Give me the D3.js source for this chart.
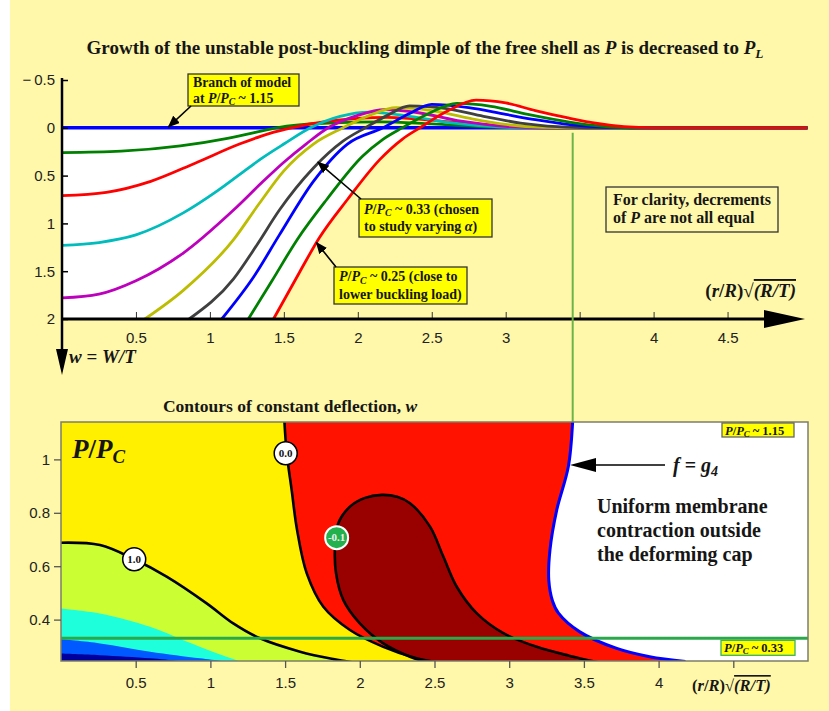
<!DOCTYPE html>
<html>
<head>
<meta charset="utf-8">
<script src="https://cdn.jsdelivr.net/npm/d3@7"></script>
<style>
  html, body { margin: 0; padding: 0; background: #ffffff; }
  svg { display: block; }
  text { font-family: "Liberation Serif", "Times New Roman", serif; }
  .axis text { font-family: "Liberation Sans", Arial, Helvetica, sans-serif; font-size: 15px; fill: #222; }
</style>
</head>
<body>
<svg id="chart" width="829" height="711"></svg>
<script>
// ---------------- upper panel: deflection profiles w(x) ----------------
const topXTicks = [0.5, 1, 1.5, 2, 2.5, 3, 3.5, 4, 4.5];
const topXTickLabels = ["0.5", "1", "1.5", "2", "2.5", "3", "", "4", "4.5"];
const topYTicks = [-0.5, 0, 0.5, 1, 1.5, 2];
const topYTickLabels = ["\u2212\u20090.5", "0", "0.5", "1", "1.5", "2"];

// [x, w] samples, P decreasing from P/Pc ~ 1.15 down to ~ 0.25
const profileP115 = [[0, 0], [5.04, 0]];
const profile2 = [[0, 0.26], [0.4, 0.245], [0.8, 0.19], [1.1, 0.115], [1.3, 0.05], [1.45, 0], [1.8, -0.05], [2.15, -0.062], [2.5, -0.04], [2.9, -0.008], [3.2, 0], [5.04, 0]];
const profile3 = [[0, 0.71], [0.3, 0.675], [0.6, 0.56], [0.9, 0.37], [1.2, 0.17], [1.4, 0.06], [1.55, 0], [1.8, -0.07], [2.2, -0.11], [2.6, -0.065], [3.0, -0.015], [3.3, 0], [5.04, 0]];
const profile4 = [[0, 1.23], [0.25, 1.2], [0.5, 1.12], [0.82, 0.89], [1.05, 0.66], [1.2, 0.49], [1.35, 0.32], [1.5, 0.17], [1.68, 0], [1.88, -0.12], [2.08, -0.165], [2.35, -0.12], [2.65, -0.05], [2.95, -0.01], [3.2, 0], [5.04, 0]];
const profile5 = [[0, 1.78], [0.25, 1.74], [0.5, 1.6], [0.82, 1.31], [1.16, 0.86], [1.36, 0.56], [1.5, 0.36], [1.65, 0.17], [1.8, 0], [2.0, -0.13], [2.18, -0.19], [2.4, -0.16], [2.7, -0.07], [3.0, -0.015], [3.3, 0], [5.04, 0]];
const profile6 = [[0.56, 2], [0.82, 1.7], [1.16, 1.17], [1.33, 0.8], [1.5, 0.45], [1.7, 0.17], [1.9, 0], [2.08, -0.13], [2.26, -0.21], [2.5, -0.18], [2.75, -0.1], [3.0, -0.035], [3.25, -0.005], [3.45, 0], [5.04, 0]];
const profile7 = [[0.86, 2], [1.16, 1.58], [1.32, 1.22], [1.47, 0.86], [1.7, 0.42], [1.9, 0.14], [2.05, 0], [2.2, -0.13], [2.35, -0.23], [2.6, -0.2], [2.85, -0.12], [3.1, -0.05], [3.35, -0.012], [3.55, 0], [5.04, 0]];
const profile8 = [[1.08, 2], [1.3, 1.55], [1.47, 1.12], [1.7, 0.56], [1.93, 0.17], [2.17, 0], [2.35, -0.15], [2.5, -0.245], [2.75, -0.21], [3.0, -0.14], [3.2, -0.085], [3.45, -0.03], [3.7, -0.005], [3.85, 0], [5.04, 0]];
const profile9 = [[1.26, 2], [1.42, 1.6], [1.59, 1.17], [1.79, 0.75], [2.03, 0.3], [2.17, 0.12], [2.3, 0], [2.48, -0.15], [2.67, -0.255], [2.9, -0.225], [3.15, -0.14], [3.43, -0.06], [3.66, -0.015], [3.85, 0], [5.04, 0]];
const profile10 = [[1.43, 2], [1.61, 1.5], [1.74, 1.15], [1.93, 0.75], [2.15, 0.33], [2.3, 0.12], [2.42, 0], [2.6, -0.17], [2.8, -0.29], [3.0, -0.26], [3.2, -0.18], [3.43, -0.1], [3.62, -0.045], [3.8, -0.012], [4.0, 0], [5.04, 0]];

const profiles = [profileP115, profile2, profile3, profile4, profile5, profile6, profile7, profile8, profile9, profile10];
const profileColors = ["#0000ff", "#008000", "#ff0000", "#00bcbc", "#bc00bc", "#bcbc00", "#404040", "#0000ff", "#008000", "#ff0000"];

// ---------------- lower panel: contours of w over (x, P/Pc) ----------------
const botXTicks = [0.5, 1, 1.5, 2, 2.5, 3, 3.5, 4, 4.5];
const botXTickLabels = ["0.5", "1", "1.5", "2", "2.5", "3", "3.5", "4", ""];
const botYTicks = [0.4, 0.6, 0.8, 1];
const botYTickLabels = ["0.4", "0.6", "0.8", "1"];

// contour lines as [x, P/Pc]
const contourZero = [[1.495, 1.145], [1.511, 1.023], [1.544, 0.885], [1.58, 0.736], [1.645, 0.573], [1.756, 0.448], [1.934, 0.361], [2.157, 0.298], [2.38, 0.255], [2.52, 0.24]];
const contourOne = [[0, 0.688], [0.261, 0.679], [0.49, 0.626], [0.707, 0.561], [0.975, 0.461], [1.153, 0.386], [1.332, 0.33], [1.6, 0.28], [1.823, 0.252], [1.95, 0.24]];
const contourMinus01 = [[2.45, 0.24], [2.336, 0.261], [2.157, 0.311], [2.0, 0.386], [1.89, 0.473], [1.841, 0.573], [1.834, 0.673], [1.856, 0.761], [1.934, 0.823], [2.03, 0.855], [2.147, 0.867], [2.25, 0.86], [2.336, 0.836], [2.47, 0.748], [2.559, 0.636], [2.649, 0.523], [2.782, 0.424], [2.961, 0.349], [3.184, 0.298], [3.4, 0.265], [3.6, 0.24]];
const levelEdge15 = [[0, 0.442], [0.261, 0.423], [0.596, 0.373], [0.819, 0.323], [1.042, 0.274], [1.2, 0.243]];
const levelEdge2 = [[0, 0.326], [0.261, 0.311], [0.596, 0.28], [0.93, 0.255], [1.11, 0.243]];
const levelEdge25 = [[0, 0.273], [0.261, 0.267], [0.6, 0.255], [0.82, 0.243]];
// f = g4 : edge of the deforming cap
const membraneEdge = [[3.425, 1.145], [3.396, 0.973], [3.318, 0.81], [3.273, 0.661], [3.265, 0.548], [3.29, 0.47], [3.33, 0.424], [3.47, 0.355], [3.72, 0.292], [3.94, 0.261], [4.18, 0.243]];

// contour labels [x, P/Pc, text]
const contourLabels = [[1.504, 1.023, "0.0"], [0.49, 0.626, "1.0"], [1.845, 0.707, "-0.1"]];
const studyLoad = 0.33;
const upperLoad = 1.15;

// ---------------------------------------------------------------------------
const svg = d3.select("#chart");
const W = 829, H = 711;
const ink = "#161616";

svg.append("rect").attr("x", 10).attr("y", 0).attr("width", W - 10).attr("height", H).attr("fill", "#fff8aa");

const defs = svg.append("defs");
defs.append("marker").attr("id", "head").attr("viewBox", "0 0 12 10")
  .attr("refX", 11).attr("refY", 5).attr("markerWidth", 12).attr("markerHeight", 10)
  .attr("markerUnits", "userSpaceOnUse").attr("orient", "auto")
  .append("path").attr("d", "M0,0 L12,5 L0,10 Z").attr("fill", "#000");

// rich text helper: lines = [[[text, italic?, subscript?, overline?], ...], ...]
function rich(parent, x, y, lines, size, anchor, gap) {
  const t = parent.append("text").attr("x", x).attr("y", y)
    .attr("font-size", size).attr("font-weight", "bold")
    .attr("text-anchor", anchor || "start").attr("fill", ink);
  let shift = 0;
  lines.forEach((parts, li) => {
    parts.forEach((p, pi) => {
      const s = t.append("tspan").text(p[0]);
      let dy = 0;
      if (li > 0 && pi === 0) { s.attr("x", x); dy += gap; }
      if (p[1]) s.attr("font-style", "italic");
      const want = p[2] ? size * 0.2 : 0;
      dy += want - shift; shift = want;
      if (dy) s.attr("dy", dy);
      if (p[2]) s.attr("font-size", size * 0.7);
      if (p[3]) s.style("text-decoration", "overline");
    });
  });
  return t;
}

// ================= upper panel =================
const xTop = d3.scaleLinear().domain([0, 5]).range([62, 801.5]);
const yTop = d3.scaleLinear().domain([-0.5, 2]).range([80, 319]);
const gTop = svg.append("g");

rich(gTop, 425, 54, [[["Growth of the unstable post-buckling dimple of the free shell as "], ["P", 1], [" is decreased to "], ["P", 1], ["L", 1, 1]]], 19, "middle");

// region swept by the dimple (between w = 0 and the last profile)
const lastProfile = profiles[profiles.length - 1];
gTop.append("rect")
  .attr("x", xTop(0)).attr("y", yTop(0))
  .attr("width", xTop(lastProfile[0][0]) - xTop(0) + 1).attr("height", yTop(2) - yTop(0))
  .attr("fill", "#ffffff");
gTop.append("path").datum(lastProfile)
  .attr("d", d3.area().x(d => xTop(d[0])).y0(yTop(0)).y1(d => yTop(d[1])).curve(d3.curveMonotoneX))
  .attr("fill", "#ffffff");

// vertical marker at the cap edge, continuing into the lower panel
const xBot = d3.scaleLinear().domain([0, 5]).range([61, 808]);
const yBot = d3.scaleLinear().domain([0.245, 1.14]).range([661, 422]);
const capX = xBot(membraneEdge[0][0]);
svg.append("line").attr("x1", capX).attr("x2", capX).attr("y1", yTop(0) + 5).attr("y2", yBot(1.14))
  .attr("stroke", "#6cb44a").attr("stroke-width", 2);

const profLine = d3.line().x(d => xTop(d[0])).y(d => yTop(d[1])).curve(d3.curveMonotoneX);
gTop.selectAll("path.profile").data(profiles).join("path")
  .attr("class", "profile")
  .attr("d", profLine)
  .attr("fill", "none")
  .attr("stroke", (d, i) => profileColors[i])
  .attr("stroke-width", (d, i) => i === 0 ? 3.6 : 2.8)
  .attr("stroke-linejoin", "round");

// axes
const axTopX = gTop.append("g").attr("class", "axis").attr("transform", `translate(0,${yTop(2)})`)
  .call(d3.axisBottom(xTop).tickValues(topXTicks).tickFormat((d, i) => topXTickLabels[i])
    .tickSizeInner(-7).tickSizeOuter(0).tickPadding(13));
axTopX.select(".domain").remove();
axTopX.selectAll(".tick line").attr("stroke", "#333");

const axTopY = gTop.append("g").attr("class", "axis").attr("transform", `translate(${xTop(0)},0)`)
  .call(d3.axisLeft(yTop).tickValues(topYTicks).tickFormat((d, i) => topYTickLabels[i])
    .tickSizeInner(-6).tickSizeOuter(0).tickPadding(7));
axTopY.select(".domain").remove();
axTopY.selectAll(".tick line").attr("stroke", "#000").attr("stroke-width", 1.5);

// horizontal axis with arrow
gTop.append("line").attr("x1", xTop(0)).attr("x2", 766).attr("y1", yTop(2)).attr("y2", yTop(2))
  .attr("stroke", "#000").attr("stroke-width", 3);
gTop.append("path").attr("d", `M764,${yTop(2) - 9} L805,${yTop(2)} L764,${yTop(2) + 9} Z`).attr("fill", "#000");
// vertical axis pointing down (w positive downward)
gTop.append("line").attr("x1", xTop(0)).attr("x2", xTop(0)).attr("y1", yTop(-0.5) - 2).attr("y2", 352)
  .attr("stroke", "#000").attr("stroke-width", 2.5);
gTop.append("path").attr("d", `M${xTop(0) - 6},349 L${xTop(0)},375 L${xTop(0) + 6},349 Z`).attr("fill", "#000");

rich(gTop, 69, 363, [[["w", 1], [" = "], ["W/T", 1]]], 19);
rich(gTop, 796, 297, [[["("], ["r", 1], ["/"], ["R", 1], [")"], ["\u221A"], ["(R/T)", 1, 0, 1]]], 19, "end");

// annotation boxes
function box(parent, x, y, w, h, fill, stroke) {
  parent.append("rect").attr("x", x).attr("y", y).attr("width", w).attr("height", h)
    .attr("fill", fill).attr("stroke", stroke).attr("stroke-width", 1.3);
}
function arrow(parent, x1, y1, x2, y2) {
  parent.append("line").attr("x1", x1).attr("y1", y1).attr("x2", x2).attr("y2", y2)
    .attr("stroke", "#000").attr("stroke-width", 1.6).attr("marker-end", "url(#head)");
}

box(gTop, 188, 74, 111, 32, "#ffff00", "#333");
rich(gTop, 193, 87, [[["Branch of model"]], [["at "], ["P", 1], ["/"], ["P", 1], ["C", 1, 1], [" ~ 1.15"]]], 13.8, "start", 15.5);
arrow(gTop, 191, 106, xTop(0.72), yTop(0) - 1);

box(gTop, 359, 199, 133, 38, "#ffff00", "#333");
rich(gTop, 364, 213.5, [[["P", 1], ["/"], ["P", 1], ["C", 1, 1], [" ~ 0.33 (chosen"]], [["to study varying "], ["\u03B1", 1], [")"]]], 14, "start", 17.5);
arrow(gTop, 361, 199, xTop(1.73), yTop(0.36));

box(gTop, 334, 267, 133, 37, "#ffff00", "#333");
rich(gTop, 339, 281, [[["P", 1], ["/"], ["P", 1], ["C", 1, 1], [" ~ 0.25 (close to"]], [["lower buckling load)"]]], 14, "start", 17.5);
arrow(gTop, 336, 267, xTop(1.72), yTop(1.2));

box(gTop, 606, 187, 172, 45, "none", "#333");
rich(gTop, 613, 204.5, [[["For clarity, decrements"]], [["of "], ["P", 1], [" are not all equal"]]], 16, "start", 18.5);

// ================= lower panel =================
const gBot = svg.append("g");
rich(gBot, 290, 412, [[["Contours of constant deflection, "], ["w", 1]]], 17.5, "middle");

defs.append("clipPath").attr("id", "frame").append("rect")
  .attr("x", xBot(0)).attr("y", yBot(1.14)).attr("width", xBot(5) - xBot(0)).attr("height", yBot(0.245) - yBot(1.14));

const plot = gBot.append("g").attr("clip-path", "url(#frame)");
const edge = d3.line().x(d => xBot(d[0])).y(d => yBot(d[1])).curve(d3.curveCatmullRom.alpha(0.5));
const X0 = xBot(0) - 2, Ybot = yBot(0.245) + 4, Ytop = yBot(1.14) - 4;
const leftOf = pts => edge(pts) + `L${X0},${Ybot}L${X0},${Ytop}Z`;
const below = pts => edge(pts) + `L${X0},${Ybot}Z`;

plot.append("rect").attr("x", xBot(0)).attr("y", yBot(1.14)).attr("width", xBot(5) - xBot(0)).attr("height", yBot(0.245) - yBot(1.14)).attr("fill", "#ffffff");
plot.append("path").attr("d", leftOf(membraneEdge)).attr("fill", "#ff1200");
plot.append("path").attr("d", edge(contourMinus01) + "Z").attr("fill", "#990000");
plot.append("path").attr("d", leftOf(contourZero)).attr("fill", "#fff000");
plot.append("path").attr("d", below(contourOne)).attr("fill", "#ccff33");
plot.append("path").attr("d", below(levelEdge15)).attr("fill", "#1effdc");
plot.append("path").attr("d", below(levelEdge2)).attr("fill", "#0058ff");
plot.append("path").attr("d", below(levelEdge25)).attr("fill", "#00009c");

[contourZero, contourOne, contourMinus01].forEach(c => {
  plot.append("path").attr("d", edge(c)).attr("fill", "none").attr("stroke", "#000").attr("stroke-width", 2.6);
});
plot.append("path").attr("d", edge(membraneEdge)).attr("fill", "none").attr("stroke", "#0000ff").attr("stroke-width", 3);

// study load line
plot.append("line").attr("x1", xBot(0)).attr("x2", xBot(5)).attr("y1", yBot(studyLoad)).attr("y2", yBot(studyLoad))
  .attr("stroke", "#2aa84a").attr("stroke-width", 3);

// frame and axes
gBot.append("rect").attr("x", xBot(0)).attr("y", yBot(1.14)).attr("width", xBot(5) - xBot(0)).attr("height", yBot(0.245) - yBot(1.14))
  .attr("fill", "none").attr("stroke", "#7d7d6a").attr("stroke-width", 1.5);
const axBotX = gBot.append("g").attr("class", "axis").attr("transform", `translate(0,${yBot(0.245)})`)
  .call(d3.axisBottom(xBot).tickValues(botXTicks).tickFormat((d, i) => botXTickLabels[i])
    .tickSizeInner(7).tickSizeOuter(0).tickPadding(9));
axBotX.select(".domain").remove();
axBotX.selectAll(".tick line").attr("stroke", "#555").attr("stroke-width", 1.3);
const axBotY = gBot.append("g").attr("class", "axis").attr("transform", `translate(${xBot(0)},0)`)
  .call(d3.axisLeft(yBot).tickValues(botYTicks).tickFormat((d, i) => botYTickLabels[i])
    .tickSizeInner(7).tickSizeOuter(0).tickPadding(4));
axBotY.select(".domain").remove();
axBotY.selectAll(".tick line").attr("stroke", "#555").attr("stroke-width", 1.3);

rich(gBot, 72, 458, [[["P", 1], ["/"], ["P", 1], ["C", 1, 1]]], 27);
rich(gBot, 692, 691, [[["("], ["r", 1], ["/"], ["R", 1], [")"], ["\u221A"], ["(R/T)", 1, 0, 1]]], 16.5);

// contour labels
contourLabels.forEach(([x, p, s]) => {
  const neg = s.startsWith("-");
  gBot.append("circle").attr("cx", xBot(x)).attr("cy", yBot(p)).attr("r", 11.5)
    .attr("fill", neg ? "#22b14c" : "#ffffff").attr("stroke", neg ? "#ffffff" : "#000").attr("stroke-width", neg ? 2 : 1.5);
  gBot.append("text").attr("x", xBot(x)).attr("y", yBot(p) + 3.8).attr("text-anchor", "middle")
    .attr("font-size", 11).attr("font-weight", "bold").attr("fill", neg ? "#f0f0f0" : "#111").text(s);
});

// load level tags
box(gBot, 722, 423, 72, 14, "#ffff00", "#666");
rich(gBot, 725, 434.5, [[["P", 1], ["/"], ["P", 1], ["C", 1, 1], [" ~ " + upperLoad.toFixed(2)]]], 12.5);
box(gBot, 721, yBot(studyLoad) + 2, 74, 15, "#ffff00", "#3cb35a");
rich(gBot, 724, yBot(studyLoad) + 13.5, [[["P", 1], ["/"], ["P", 1], ["C", 1, 1], [" ~ " + studyLoad.toFixed(2)]]], 12.5);

// f = g4 pointer and note
gBot.append("line").attr("x1", 665).attr("x2", 592).attr("y1", 465).attr("y2", 465).attr("stroke", "#000").attr("stroke-width", 1.6);
gBot.append("path").attr("d", "M570,465 L596,458 L596,472 Z").attr("fill", "#000");
rich(gBot, 673, 472, [[["f", 1], [" = "], ["g", 1], ["4", 1, 1]]], 20);
rich(gBot, 597, 513, [[["Uniform membrane"]], [["contraction outside"]], [["the deforming cap"]]], 20, "start", 24);
</script>
</body>
</html>
